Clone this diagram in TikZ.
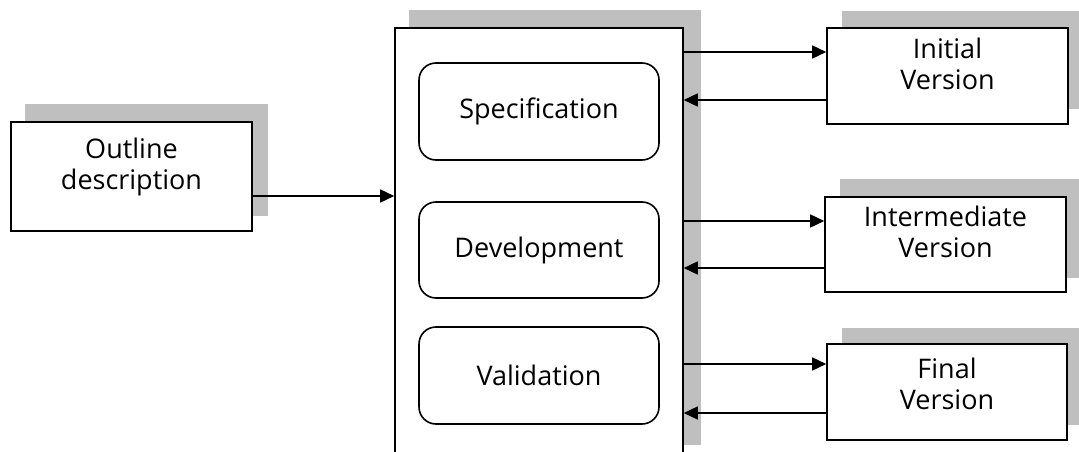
\documentclass[tikz,border=0pt]{standalone}
\usepackage{fontspec}
\setmainfont{Open Sans}
\usetikzlibrary{arrows.meta}
\definecolor{shadowgray}{HTML}{BFBFBF}
\begin{document}
\begin{tikzpicture}[x=1pt,y=-1pt,
  box/.style={draw=black,line width=1.6pt,fill=white,rectangle,inner sep=0pt},
  stage/.style={box,rounded corners=17pt,minimum width=240pt,minimum height=97pt,
    font=\fontsize{27}{31}\selectfont},
  txt/.style={inner sep=0pt,align=center,font=\fontsize{27}{31}\selectfont},
  arr/.style={line width=1.6pt,-{Triangle[length=14pt,width=13pt]}},
  shadow/.style={fill=shadowgray}]
\useasboundingbox (0,0) rectangle (1079,452);

% drop shadows behind the boxes
\fill[shadow] (25,104) rectangle (268,216);
\fill[shadow] (409,10) rectangle (701,445);
\fill[shadow] (842,11) rectangle (1085,109);
\fill[shadow] (840,179) rectangle (1085,278);
\fill[shadow] (842,328) rectangle (1085,425);

% input box
\node[box,minimum width=241pt,minimum height=109pt,
  label={[txt,anchor=north,yshift=-17pt]north:Outline\\description}]
  (outline) at (131.5,176.5) {};

% process box, open towards the bottom edge
\node[box,minimum width=288pt,minimum height=442pt] (proc) at (539,249) {};
\node[stage] (spec) at (539,111.5) {Specification};
\node[stage,minimum height=96pt] (dev) at (539,250) {Development};
\node[stage] (val) at (539,375.5) {Validation};

% output versions
\node[box,minimum width=241pt,minimum height=96pt,
  label={[txt,anchor=north,yshift=-11pt]north:Initial\\Version}]
  (init) at (947.5,76) {};
\node[box,minimum width=241pt,minimum height=95pt,
  label={[txt,anchor=north,yshift=-10pt]north:Intermediate\\Version}]
  (inter) at (945.5,244.5) {};
\node[box,minimum width=240pt,minimum height=96pt,
  label={[txt,anchor=north,yshift=-15pt]north:Final\\Version}]
  (final) at (947,392) {};

% connector heights
\coordinate (yo) at (0,196);
\coordinate (y1) at (0,52);
\coordinate (y2) at (0,100);
\coordinate (y3) at (0,221);
\coordinate (y4) at (0,268);
\coordinate (y5) at (0,364);
\coordinate (y6) at (0,413);

\draw[arr] (outline.east |- yo) -- (proc.west |- yo);
\draw[arr] (proc.east |- y1) -- (init.west |- y1);
\draw[arr] (init.west |- y2) -- (proc.east |- y2);
\draw[arr] (proc.east |- y3) -- (inter.west |- y3);
\draw[arr] (inter.west |- y4) -- (proc.east |- y4);
\draw[arr] (proc.east |- y5) -- (final.west |- y5);
\draw[arr] (final.west |- y6) -- (proc.east |- y6);
\end{tikzpicture}
\end{document}
